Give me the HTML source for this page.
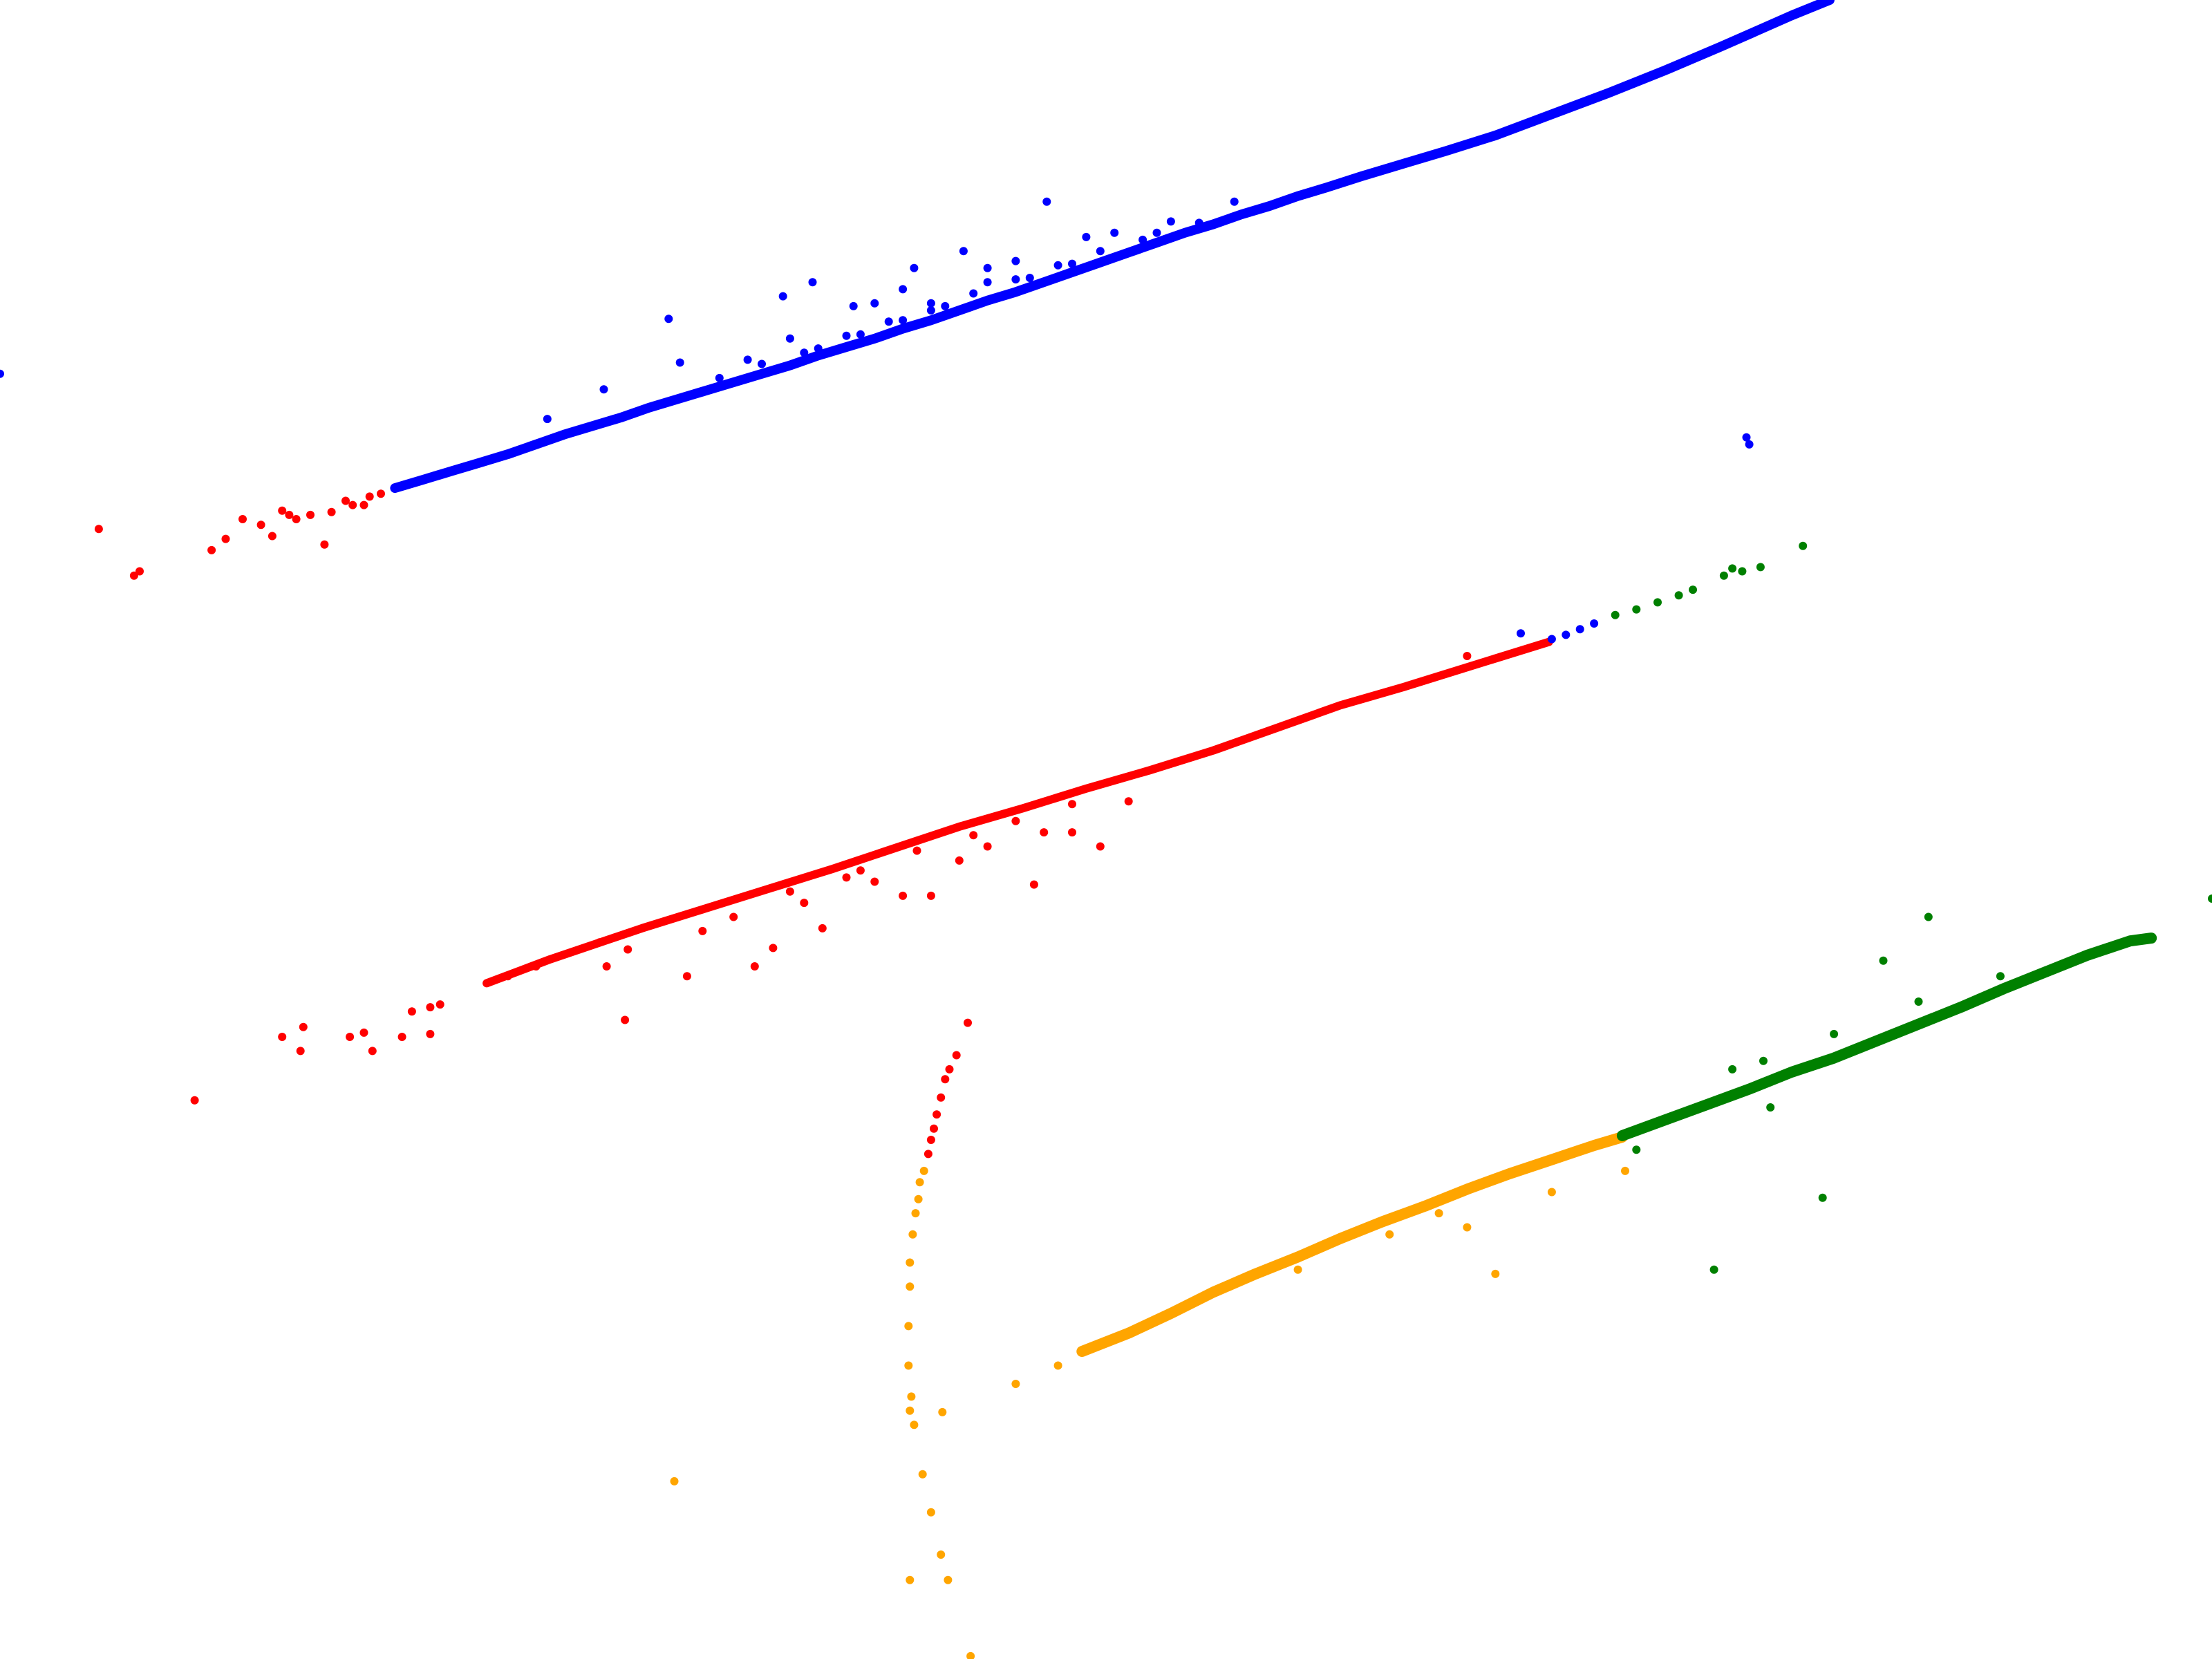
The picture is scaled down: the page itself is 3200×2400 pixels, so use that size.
<!DOCTYPE html>
<html><head><meta charset="utf-8"><style>html,body{margin:0;padding:0;background:#fff}svg{display:block}</style></head>
<body>
<svg id="chart" width="3200" height="2400" viewBox="0 0 3200 2400" xmlns="http://www.w3.org/2000/svg">
<rect width="3200" height="2400" fill="#fff"/>
<g id="bands"></g>
<g id="marks"></g>
</svg>
<script>
const blueMainX=[280,300,320,340,360,380,400,420,440,460,480,500,520,540,560,580,600,620,640,660,680,700,720,740,760,780,800,820,840,860,880,900,920,940,965,995,1025,1060,1100,1140,1180,1220,1245,1270,1297];
const blueMainY=[346,340,334,328,322,315,308,302,296,289,283,277,271,265,259,252,246,240,233,227,220,213,207,200,193,186,179,172,165,159,152,146,139,133,125,116,107,96,81,66,50,33,22,11,0];
const blueExtraX=[742,875,648,683,605,576,555,474,482,428,770,790,830,720,700,620,640,560,530,388,1238,1240,0,1078,510,540,570,600,630,660,690,720,750,780,810,1100,1110,1120,1130,820,850,700,660,580,610,640,670,730,760];
const blueExtraY=[143,143,190,178,217,200,210,226,257,276,168,165,157,185,190,215,205,240,255,297,310,315,265,449,268,258,250,238,228,220,208,198,188,178,170,453,450,446,442,165,158,200,215,247,237,227,217,197,187];
const redMainX=[345,390,455,500,545,590,635,680,725,770,815,860,905,950,995,1040,1098];
const redMainY=[697,680,658,644,630,616,601,586,573,559,546,532,516,500,487,473,455];
const redExtraX=[70,95,99,150,160,172,185,193,200,205,210,220,230,235,245,250,258,262,270,200,213,215,248,258,264,285,292,305,312,305,138,443,487,425,430,445,535,548,583,640,660,733,780,760,700,620,570,520,498,800,1040,600,680,740,658,660,662,664,667,670,673,678,686,360,380,560,610,650,690,720,760];
const redExtraY=[375,408,405,390,382,368,372,380,362,365,368,365,386,363,355,358,358,352,350,735,745,728,735,732,745,735,717,714,712,733,780,723,692,668,685,673,685,672,658,635,635,627,600,590,600,625,640,650,660,568,465,622,610,590,818,808,800,790,778,765,758,748,725,692,685,632,617,603,592,582,570];
const orangeMainX=[767,800,830,860,890,920,950,980,1010,1040,1070,1100,1130,1150];
const orangeMainY=[958,945,931,916,903,891,878,866,855,843,832,822,812,806];
const orangeExtraX=[720,750,1060,1040,1100,1152,985,920,1020,688,645,672,667,660,654,478,668,648,645,646,644,644,645,645,647,649,651,652,655];
const orangeExtraY=[981,968,903,870,845,830,875,900,860,1174,1120,1120,1102,1072,1045,1050,1001,1010,1000,990,968,940,912,895,875,860,850,838,830];
const greenMainX=[1150,1180,1210,1240,1270,1300,1330,1360,1390,1420,1450,1480,1510,1525];
const greenMainY=[805,794,783,772,760,750,738,726,714,701,689,677,667,665];
const greenExtraX=[1568,1215,1292,1335,1367,1418,1300,1228,1250,1255,1160,1360,1145,1160,1175,1190,1200,1222,1228,1235,1248,1278];
const greenExtraY=[637,900,849,681,650,692,733,758,752,785,815,710,436,432,427,422,418,408,403,405,402,387];
const S=3200/1568;
function xs(v){return v*S;}
function ys(v){return v*S;}
const NS='http://www.w3.org/2000/svg';
const bands=document.getElementById('bands');
const g=document.getElementById('marks');
function band(X,Y,color,w,name){
  const p=document.createElementNS(NS,'polyline');
  p.setAttribute('points',X.map((v,i)=>xs(v).toFixed(1)+','+ys(Y[i]).toFixed(1)).join(' '));
  p.setAttribute('fill','none');
  p.setAttribute('stroke',color);
  p.setAttribute('stroke-width',w);
  p.setAttribute('stroke-linecap','round');
  p.setAttribute('stroke-linejoin','round');
  
  
  bands.appendChild(p);
}
function dots(X,Y,color,name){
  for(let i=0;i<X.length;i++){
    const c=document.createElementNS(NS,'circle');
    c.setAttribute('cx',xs(X[i]).toFixed(1));
    c.setAttribute('cy',ys(Y[i]).toFixed(1));
    c.setAttribute('r',6);
    c.setAttribute('fill',color);
    
    
    g.appendChild(c);
  }
}
band(blueMainX,blueMainY,'#0000ff',14,'blue-band');
band(redMainX,redMainY,'#ff0000',12,'red-band');
band(orangeMainX,orangeMainY,'#ffa500',16,'orange-band');
band(greenMainX,greenMainY,'#008000',16,'green-band');
dots(blueExtraX,blueExtraY,'#0000ff','blue-point');
dots(redExtraX,redExtraY,'#ff0000','red-point');
dots(orangeExtraX,orangeExtraY,'#ffa500','orange-point');
dots(greenExtraX,greenExtraY,'#008000','green-point');
</script>
</body></html>
